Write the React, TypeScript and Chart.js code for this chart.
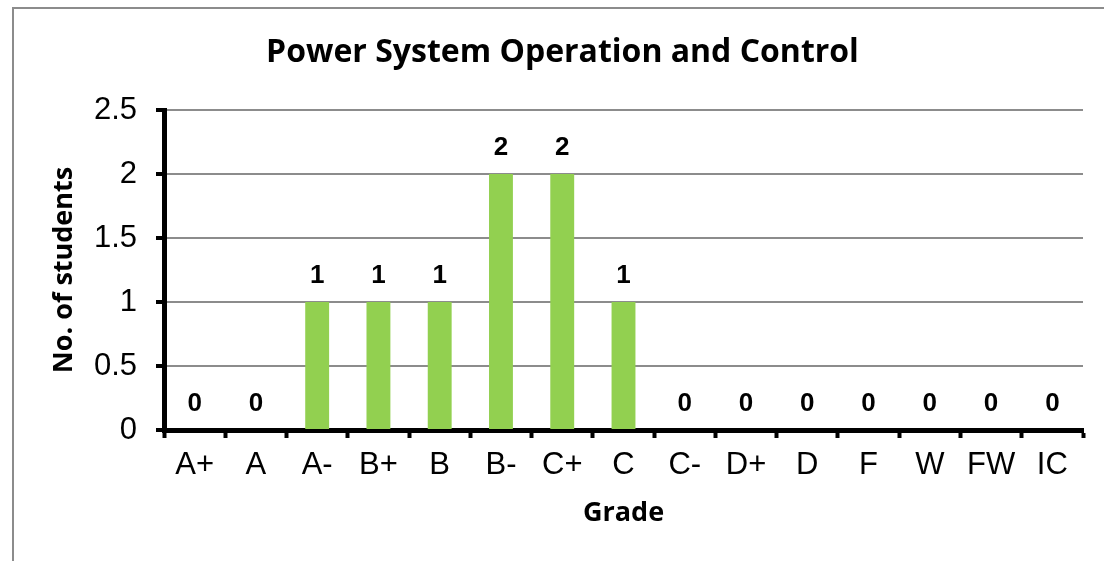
import React, { useEffect, useRef } from "react";
import { Chart, registerables } from "chart.js";

Chart.register(...registerables);

const chartTitle = "Power System Operation and Control";
const grades = ["A+", "A", "A-", "B+", "B", "B-", "C+", "C", "C-", "D+", "D", "F", "W", "FW", "IC"];
const students = [0, 0, 1, 1, 1, 2, 2, 1, 0, 0, 0, 0, 0, 0, 0];
const yTickValues = [0, 0.5, 1, 1.5, 2, 2.5];
const yTickLabels = ["0", "0.5", "1", "1.5", "2", "2.5"];
const xAxisTitle = "Grade";
const yAxisTitle = "No. of students";

const W = 1104;
const H = 561;
const PAD_LEFT = 42;

const dataLabelPlugin = {
  id: "dataLabels",
  afterDatasetsDraw(chart: any) {
    const ctx = chart.ctx;
    const meta = chart.getDatasetMeta(0);
    const data = chart.data.datasets[0].data as number[];
    ctx.save();
    ctx.font = "bold 26px 'Liberation Sans', Arial, sans-serif";
    ctx.fillStyle = "#000";
    ctx.textAlign = "center";
    ctx.textBaseline = "middle";
    meta.data.forEach((el: any, i: number) => {
      ctx.fillText(String(data[i]), el.x, el.y - 26);
    });
    ctx.restore();
  },
};

export default function App() {
  const ref = useRef<HTMLCanvasElement | null>(null);
  useEffect(() => {
    if (!ref.current) return;
    const chart = new Chart(ref.current, {
      type: "bar",
      data: {
        labels: grades,
        datasets: [
          {
            data: students,
            backgroundColor: "#92D050",
            barPercentage: 0.39,
            categoryPercentage: 1,
          },
        ],
      },
      options: {
        responsive: false,
        animation: false,
        layout: { padding: { left: PAD_LEFT, right: 21, top: 0, bottom: 0 } },
        plugins: {
          legend: { display: false },
          tooltip: { enabled: false },
          title: {
            display: true,
            text: chartTitle,
            color: "#000",
            font: { family: "'Open Sans', Lato, sans-serif", size: 32, weight: "bold", lineHeight: 1.2 },
            padding: { top: 34, bottom: 37.6 },
          },
        },
        scales: {
          x: {
            grid: {
              offset: true,
              drawOnChartArea: false,
              tickLength: 8,
              tickWidth: 4,
              tickColor: "#000",
            },
            border: { color: "#000", width: 5 },
            ticks: {
              color: "#000",
              font: { family: "'Liberation Sans', Arial, sans-serif", size: 31 },
              padding: 9,
              maxRotation: 0,
              autoSkip: false,
            },
            title: {
              display: true,
              text: xAxisTitle,
              color: "#000",
              font: { family: "'Open Sans', Lato, sans-serif", size: 27, weight: "bold", lineHeight: 1.2 },
              padding: { top: 0, bottom: 31 },
            },
            afterFit(scale: any) {
              scale.height = H - 430;
            },
          },
          y: {
            min: 0,
            max: 2.5,
            afterBuildTicks(scale: any) {
              scale.ticks = yTickValues.map((v) => ({ value: v }));
            },
            grid: {
              color: (c: any) => (c.tick && c.tick.value === 0 ? "rgba(0,0,0,0)" : "#8c8c8c"),
              lineWidth: 2,
              tickLength: 8,
              tickWidth: 4,
              tickColor: "#000",
            },
            border: { color: "#000", width: 5 },
            ticks: {
              color: "#000",
              font: { family: "'Liberation Sans', Arial, sans-serif", size: 31 },
              padding: 19,
              callback: (v: any) => {
                const i = yTickValues.indexOf(Number(v));
                return i >= 0 ? yTickLabels[i] : "";
              },
            },
            title: {
              display: true,
              text: yAxisTitle,
              color: "#000",
              font: { family: "'Open Sans', Lato, sans-serif", size: 27, weight: "bold", lineHeight: 1.2 },
              padding: { top: 48 - PAD_LEFT, bottom: 0 },
            },
            afterFit(scale: any) {
              scale.width = 164 - PAD_LEFT;
            },
          },
        },
      },
      plugins: [dataLabelPlugin],
    });
    return () => chart.destroy();
  }, []);

  return (
    <div style={{ position: "fixed", left: 0, top: 0, width: W, height: H, background: "#fff", overflow: "hidden" }}>
      <canvas ref={ref} width={W} height={H} style={{ position: "absolute", left: 0, top: 0 }} />
      <div
        style={{
          position: "absolute",
          left: 12,
          top: 7,
          width: W,
          height: H,
          borderLeft: "2px solid #8c8c8c",
          borderTop: "2px solid #8c8c8c",
          pointerEvents: "none",
        }}
      />
    </div>
  );
}
